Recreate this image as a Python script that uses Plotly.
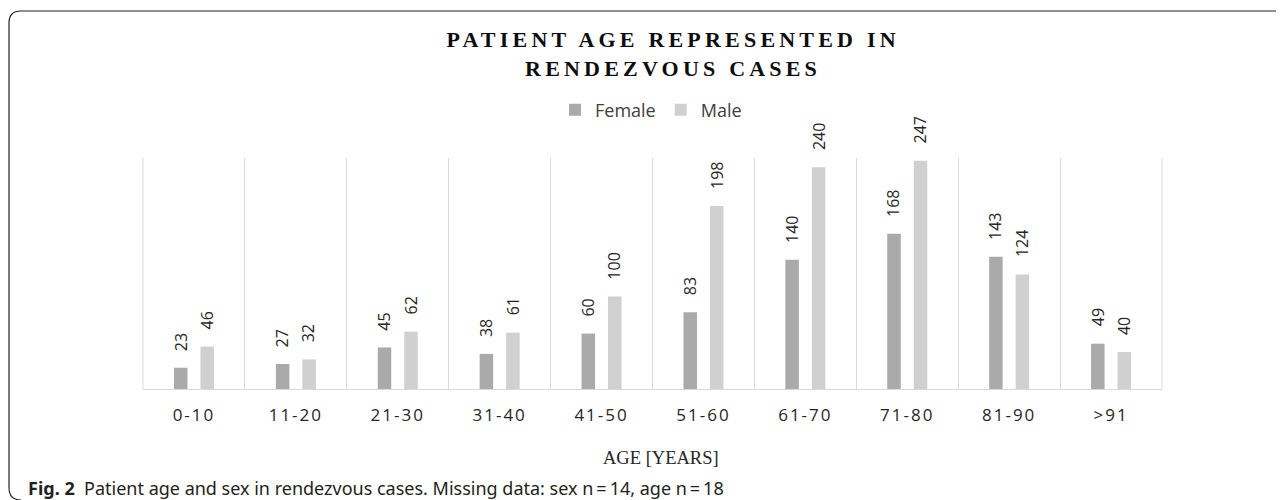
import plotly.graph_objects as go

categories = ["0-10", "11-20", "21-30", "31-40", "41-50", "51-60", "61-70", "71-80", "81-90", ">91"]
female = [23, 27, 45, 38, 60, 83, 140, 168, 143, 49]
male = [46, 32, 62, 61, 100, 198, 240, 247, 124, 40]

# page has an 8px body margin: figure sized to fill the window exactly
OFF = 8
W, H = 1284 - OFF, 500 - OFF
# plot area in screen pixels
SL, SR, ST, SB = 143, 1162, 158, 389
L, R, T, B = SL - OFF, SR - OFF, ST - OFF, SB - OFF


def px(xs):
    return (xs - OFF - L) / (R - L)


def py(ys):
    return (B - (ys - OFF)) / (B - T)


FEMALE_C = "#aaaaaa"
MALE_C = "#d0d0d0"
TXT = "#262626"

fig = go.Figure()
fig.add_trace(go.Bar(x=categories, y=female, name="Female", marker=dict(color=FEMALE_C, line=dict(width=0))))
fig.add_trace(go.Bar(x=categories, y=male, name="Male", marker=dict(color=MALE_C, line=dict(width=0))))

annotations = [dict(
    x=px(673), y=py(54), xref="paper", yref="paper",
    text="<b>PATIENT AGE REPRESENTED IN<br>RENDEZVOUS CASES</b>", showarrow=False,
    xanchor="center", yanchor="middle", align="center",
    font=dict(family="Liberation Serif", size=22, color="#0d0d0d"),
)]

for cat, f, m in zip(categories, female, male):
    for val, shift in ((f, -13.5), (m, 13)):
        annotations.append(dict(
            x=cat, y=val, xref="x", yref="y", text=str(val), showarrow=False,
            textangle=-90, xanchor="center", yanchor="bottom", xshift=shift, yshift=15,
            font=dict(family="Open Sans", size=16, color=TXT),
        ))

annotations.append(dict(
    x=px(661), y=py(458), xref="paper", yref="paper", text="AGE [YEARS]", showarrow=False,
    xanchor="center", yanchor="middle",
    font=dict(family="Liberation Serif", size=18.5, color=TXT),
))
annotations.append(dict(
    x=px(26), y=py(488), xref="paper", yref="paper",
    text="<b>Fig. 2</b>  Patient age and sex in rendezvous cases. Missing data: sex n\u2009=\u200914, age n\u2009=\u200918",
    showarrow=False, xanchor="left", yanchor="middle",
    font=dict(family="Noto Sans", size=18, color="#231f20"),
))

r = 12
fx, fy, fb = 9, 11, 500
frame = (
    f"M {px(1300)},{py(fy)} L {px(fx + r)},{py(fy)} "
    f"Q {px(fx)},{py(fy)} {px(fx)},{py(fy + r)} "
    f"L {px(fx)},{py(fb - r)} Q {px(fx)},{py(fb)} {px(fx + r)},{py(fb)}"
)

shapes = [
    dict(type="path", path=frame, xref="paper", yref="paper", line=dict(color="#231f20", width=1.2)),
    dict(type="line", x0=0, x1=0, y0=0, y1=1, xref="paper", yref="paper", line=dict(color="#d9d9d9", width=1), layer="below"),
    dict(type="line", x0=1, x1=1, y0=0, y1=1, xref="paper", yref="paper", line=dict(color="#d9d9d9", width=1), layer="below"),
]

fig.update_layout(
    width=W, height=H,
    margin=dict(l=L, r=W - R, t=T, b=H - B, pad=0),
    paper_bgcolor="white", plot_bgcolor="white",
    barmode="group", bargap=0.48, bargroupgap=0.49,
    legend=dict(
        orientation="h", x=px(555), y=py(110), xanchor="left", yanchor="middle",
        font=dict(family="Open Sans", size=18, color="#404040"),
        bgcolor="rgba(0,0,0,0)", itemclick=False,
    ),
    xaxis=dict(
        type="category", tickson="boundaries", showgrid=True, gridcolor="#d9d9d9", gridwidth=1,
        showline=True, linecolor="#d9d9d9", linewidth=1, ticks="",
        tickfont=dict(family="Open Sans", size=17, color=TXT),
        ticklabelstandoff=11,
    ),
    yaxis=dict(range=[0, 250], visible=False, showgrid=False, zeroline=False),
    annotations=annotations,
    shapes=shapes,
    showlegend=True,
)

post = """
var gd = document.getElementById('{plot_id}');
gd.querySelectorAll('.xtick text').forEach(function(t){ t.style.letterSpacing = '2px'; });
var ttl = gd.querySelector('.annotation[data-index="0"] text');
if (ttl) { ttl.style.letterSpacing = '4.2px'; }
"""

fig.write_html("out.html", post_script=post)
